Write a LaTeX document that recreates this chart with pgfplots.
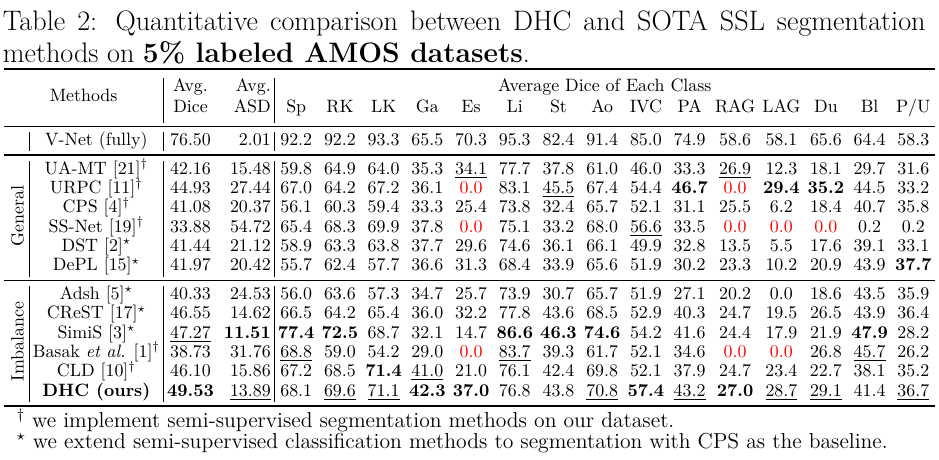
\RequirePackage{fix-cm}
\documentclass[border=0pt]{standalone}
\usepackage{pgfplots}
\pgfplotsset{compat=1.18}
\usepackage{booktabs}
\usepackage{multirow}
\usepackage{graphicx}

\newcommand{\ul}[1]{\underline{#1}}
\newcommand{\z}{\textcolor{red}{0.0}}
\newcommand{\dg}{\smash{$^\dagger$}}
\newcommand{\st}{\smash{$^\star$}}
\newcommand{\grp}[1]{\multirow{6}{*}{\smash{\rotatebox[origin=c]{90}{#1}}}}
\setlength{\heavyrulewidth}{1.1pt}
\setlength{\lightrulewidth}{0.7pt}

\begin{document}
\begin{tikzpicture}
\begin{axis}[hide axis, scale only axis, width=2cm, height=1cm,
  xmin=0, xmax=1, ymin=0, ymax=1, clip=false]
\node[inner sep=0pt] at (rel axis cs:0.5,0.5) {%
\begin{minipage}{525pt}
{\fontsize{15.75}{18.4}\selectfont \leftskip=1.6pt \rightskip=7.5pt \parindent=0pt
\rule{0pt}{16.8pt}Table 2: Quantitative comparison between DHC and SOTA SSL segmentation\linebreak
methods on \textbf{5\% labeled AMOS datasets}.\par}
\vspace{1pt}
\centering
\fontsize{10}{10.8}\selectfont
\setlength{\tabcolsep}{2pt}
\begin{tabular}{@{\hspace{4pt}}c@{\hspace{3pt}}|c|c@{\hspace{5.6pt}}r|ccccccccccccccc}
\toprule\addlinespace[4.5pt]
\multicolumn{2}{c|}{\multirow{2}{*}{Methods}} & Avg. & Avg. & \multicolumn{15}{c}{Average Dice of Each Class} \\[0.6pt]
\multicolumn{2}{c|}{} & Dice & ASD & Sp & RK & LK & Ga & Es & Li & St & Ao & IVC & PA & RAG & LAG & Du & Bl & P/U \\[2.7pt]
\midrule
 & V-Net (fully) & 76.50 & 2.01 & 92.2 & 92.2 & 93.3 & 65.5 & 70.3 & 95.3 & 82.4 & 91.4 & 85.0 & 74.9 & 58.6 & 58.1 & 65.6 & 64.4 & 58.3 \\
\midrule
\grp{General}
 & UA-MT [21]\dg & 42.16 & 15.48 & 59.8 & 64.9 & 64.0 & 35.3 & \ul{34.1} & 77.7 & 37.8 & 61.0 & 46.0 & 33.3 & \ul{26.9} & 12.3 & 18.1 & 29.7 & 31.6 \\
 & URPC [11]\dg & 44.93 & 27.44 & 67.0 & 64.2 & 67.2 & 36.1 & \z & 83.1 & \ul{45.5} & 67.4 & 54.4 & \textbf{46.7} & \z & \textbf{29.4} & \textbf{35.2} & 44.5 & 33.2 \\
 & CPS [4]\dg & 41.08 & 20.37 & 56.1 & 60.3 & 59.4 & 33.3 & 25.4 & 73.8 & 32.4 & 65.7 & 52.1 & 31.1 & 25.5 & 6.2 & 18.4 & 40.7 & 35.8 \\
 & SS-Net [19]\dg & 33.88 & 54.72 & 65.4 & 68.3 & 69.9 & 37.8 & \z & 75.1 & 33.2 & 68.0 & \ul{56.6} & 33.5 & \z & \z & \z & 0.2 & 0.2 \\
 & DST [2]\st & 41.44 & 21.12 & 58.9 & 63.3 & 63.8 & 37.7 & 29.6 & 74.6 & 36.1 & 66.1 & 49.9 & 32.8 & 13.5 & 5.5 & 17.6 & 39.1 & 33.1 \\
 & DePL [15]\st & 41.97 & 20.42 & 55.7 & 62.4 & 57.7 & 36.6 & 31.3 & 68.4 & 33.9 & 65.6 & 51.9 & 30.2 & 23.3 & 10.2 & 20.9 & 43.9 & \textbf{37.7} \\
\midrule
\grp{Imbalance}
 & Adsh [5]\st & 40.33 & 24.53 & 56.0 & 63.6 & 57.3 & 34.7 & 25.7 & 73.9 & 30.7 & 65.7 & 51.9 & 27.1 & 20.2 & 0.0 & 18.6 & 43.5 & 35.9 \\
 & CReST [17]\st & 46.55 & 14.62 & 66.5 & 64.2 & 65.4 & 36.0 & 32.2 & 77.8 & 43.6 & 68.5 & 52.9 & 40.3 & 24.7 & 19.5 & 26.5 & 43.9 & 36.4 \\
 & SimiS [3]\st & \ul{47.27} & \textbf{11.51} & \textbf{77.4} & \textbf{72.5} & 68.7 & 32.1 & 14.7 & \textbf{86.6} & \textbf{46.3} & \textbf{74.6} & 54.2 & 41.6 & 24.4 & 17.9 & 21.9 & \textbf{47.9} & 28.2 \\
 & Basak \textit{et al.} [1]\dg & 38.73 & 31.76 & \ul{68.8} & 59.0 & 54.2 & 29.0 & \z & \ul{83.7} & 39.3 & 61.7 & 52.1 & 34.6 & \z & \z & 26.8 & \ul{45.7} & 26.2 \\
 & CLD [10]\dg & 46.10 & 15.86 & 67.2 & 68.5 & \textbf{71.4} & \ul{41.0} & 21.0 & 76.1 & 42.4 & 69.8 & 52.1 & 37.9 & 24.7 & 23.4 & 22.7 & 38.1 & 35.2 \\
 & \textbf{DHC (ours)} & \textbf{49.53} & \ul{13.89} & 68.1 & \ul{69.6} & \ul{71.1} & \textbf{42.3} & \textbf{37.0} & 76.8 & 43.8 & \ul{70.8} & \textbf{57.4} & \ul{43.2} & \textbf{27.0} & \ul{28.7} & \ul{29.1} & 41.4 & \ul{36.7} \\
\bottomrule
\end{tabular}\par
\vspace{0pt}
\raggedright\fontsize{12.1}{10.6}\selectfont
\hspace*{9.5pt}$^\dagger$ we implement semi-supervised segmentation methods on our dataset.\\
\hspace*{9.5pt}$^\star$ we extend semi-supervised classification methods to segmentation with CPS as the baseline.\rule[-6pt]{0pt}{0pt}
\end{minipage}};
\end{axis}
\end{tikzpicture}
\end{document}
